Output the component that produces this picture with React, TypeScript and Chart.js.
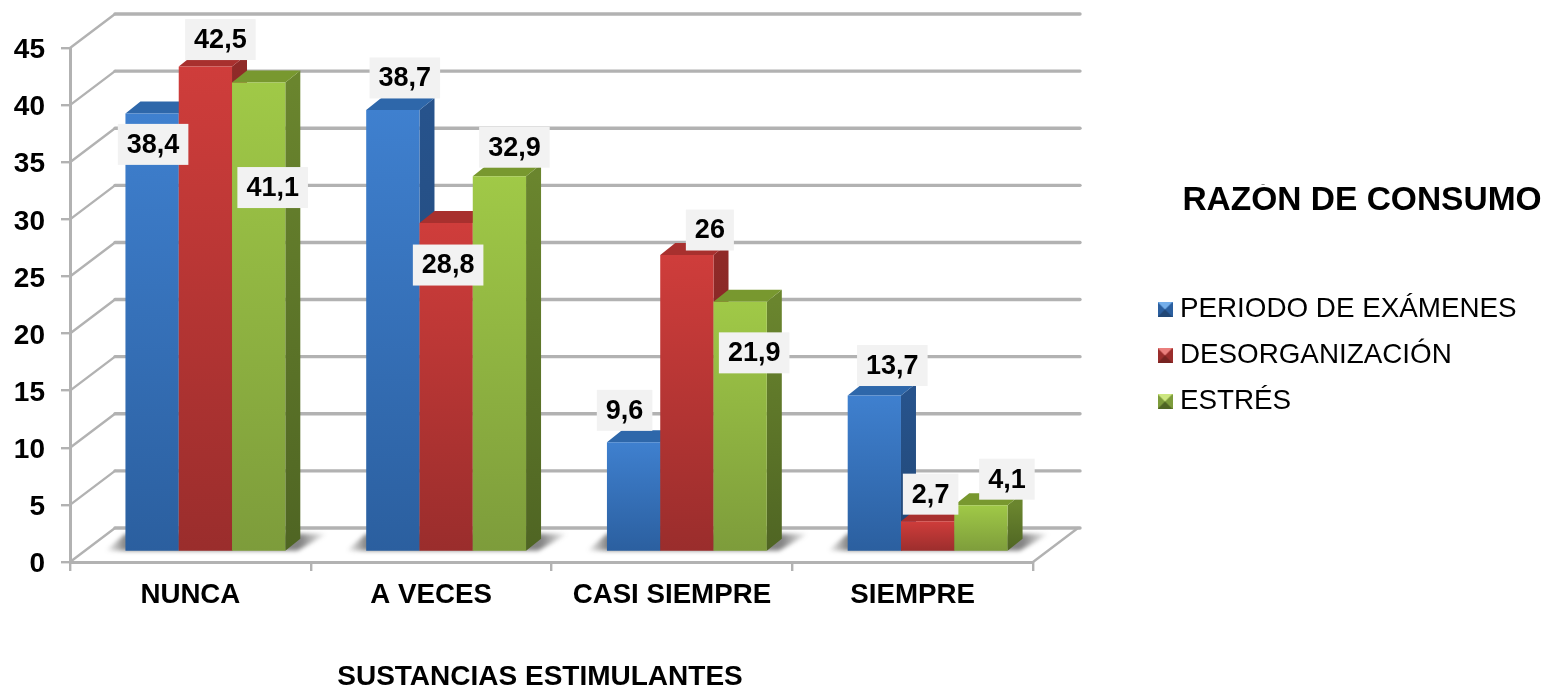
import React, { useEffect, useRef } from "react";
import { Chart, registerables } from "chart.js";

Chart.register(...registerables);

const categories = ["NUNCA", "A VECES", "CASI SIEMPRE", "SIEMPRE"];
const seriesNames = ["PERIODO DE EXÁMENES", "DESORGANIZACIÓN", "ESTRÉS"];
const periodoValues = [38.4, 38.7, 9.6, 13.7];
const desorganizacionValues = [42.5, 28.8, 26, 2.7];
const estresValues = [41.1, 32.9, 21.9, 4.1];
const legendTitle = "RAZÓN DE CONSUMO";
const xAxisTitle = "SUSTANCIAS ESTIMULANTES";

// label nudges relative to the top of each bar, per series then per category
const labelDx = [[1, 12, -9, 18], [15, 2, 23, 3], [14, 15, 14, 26]];
const labelDy = [[30, -33, -33, -31], [-28, 41, -26, -28], [104, -30, 50, -27]];

const FONT = "'Liberation Sans', Arial, sans-serif";
const WALL_DX = 45, WALL_DY = -34;
const BAR_DX = 15, BAR_DY = -10;
const SIDE_DX = 15, SIDE_DY = -12;
const GRID = "#b2b2b2";

const palette = [
  { top: "#3f80cf", bottom: "#2b5f9f", side: "#27538c", sideLow: "#214775", cap: "#2e67aa", hi: "#74aeea" },
  { top: "#cf3d3b", bottom: "#9a2d2c", side: "#8f2a28", sideLow: "#762321", cap: "#a8302e", hi: "#ea7f7d" },
  { top: "#a0c947", bottom: "#7d9c3b", side: "#6a852e", sideLow: "#4f6523", cap: "#78982f", hi: "#cce680" },
];

const fmt = (v: number) => String(v).replace(".", ",");

function marker(c: (typeof palette)[number]) {
  const cv = document.createElement("canvas");
  cv.width = 15; cv.height = 15;
  const g = cv.getContext("2d")!;
  g.fillStyle = c.bottom; g.fillRect(0, 0, 15, 15);
  g.fillStyle = c.hi;
  g.beginPath(); g.moveTo(0, 0); g.lineTo(15, 0); g.lineTo(7.5, 7.5); g.closePath(); g.fill();
  g.fillStyle = c.sideLow;
  g.beginPath(); g.moveTo(0, 15); g.lineTo(15, 15); g.lineTo(7.5, 7.5); g.closePath(); g.fill();
  return cv;
}

const depthPlugin = {
  id: "depth3d",
  beforeLayout(chart: any) {
    const l = chart.legend;
    if (l && !l.__wrapped) {
      const fit = l.fit;
      l.fit = function () { fit.call(this); this.width = 516; };
      l.__wrapped = true;
    }
  },
  afterLayout(chart: any) {
    const l = chart.legend;
    l.left = 1145.8; l.width = 432.4; l.right = l.left + l.width;
    l.top = 184; l.bottom = 460; l.height = l.bottom - l.top;
    const t = chart.titleBlock;
    t.left = 300; t.right = 780; t.width = 480;
    t.top = 660; t.bottom = t.top + t.height;
  },
  beforeDatasetsDraw(chart: any) {
    const { ctx, scales, chartArea } = chart;
    const y = scales.y;
    const y0 = y.getPixelForValue(0);
    const { left, right } = chartArea;

    // back wall and side wall
    ctx.save();
    ctx.filter = "blur(0.5px)";
    ctx.strokeStyle = GRID; ctx.lineCap = "round";
    y.ticks.forEach((t: any) => {
      const py = y.getPixelForValue(t.value);
      ctx.lineWidth = 2.4;
      ctx.beginPath(); ctx.moveTo(left, py); ctx.lineTo(left + WALL_DX, py + WALL_DY); ctx.stroke();
      ctx.lineWidth = 3.4;
      ctx.beginPath(); ctx.moveTo(left + WALL_DX, py + WALL_DY); ctx.lineTo(right + WALL_DX + 2, py + WALL_DY); ctx.stroke();
    });
    ctx.lineWidth = 2.4;
    ctx.beginPath(); ctx.moveTo(right, y0); ctx.lineTo(right + WALL_DX, y0 + WALL_DY); ctx.stroke();
    ctx.restore();

    const metas = [0, 1, 2].map((i) => chart.getDatasetMeta(i));

    // floor shadows
    ctx.save();
    ctx.translate(BAR_DX, BAR_DY);
    ctx.filter = "blur(2px)";
    categories.forEach((_, i) => {
      const a = metas[0].data[i], b = metas[2].data[i];
      const L = a.x - a.width / 2, R = b.x + b.width / 2, B = a.base;
      const from = L - 20, to = R + 42, span = to - from;
      const g = ctx.createLinearGradient(from, 0, to, 0);
      g.addColorStop(0, "rgba(50,50,50,0)");
      g.addColorStop(20 / span, "rgba(50,50,50,0.6)");
      g.addColorStop((R + 15 - from) / span, "rgba(50,50,50,0.6)");
      g.addColorStop(1, "rgba(50,50,50,0)");
      ctx.fillStyle = g;
      ctx.beginPath();
      ctx.moveTo(from, B); ctx.lineTo(L, B - 17); ctx.lineTo(to, B - 17); ctx.lineTo(R + 12, B);
      ctx.closePath(); ctx.fill();
    });
    ctx.restore();

    // bars, left to right, so a nearer front covers the previous side
    ctx.save();
    ctx.translate(BAR_DX, BAR_DY);
    ctx.filter = "blur(0.6px)";
    categories.forEach((_, i) => {
      metas.forEach((meta, s) => {
        const el = meta.data[i];
        const c = palette[s];
        const L = el.x - el.width / 2, R = el.x + el.width / 2, T = el.y, B = el.base;
        const side = ctx.createLinearGradient(0, T, 0, B);
        side.addColorStop(0, c.side); side.addColorStop(1, c.sideLow);
        ctx.fillStyle = side;
        ctx.beginPath();
        ctx.moveTo(R, T); ctx.lineTo(R + SIDE_DX, T + SIDE_DY); ctx.lineTo(R + SIDE_DX, B + SIDE_DY); ctx.lineTo(R, B);
        ctx.closePath(); ctx.fill();
        ctx.fillStyle = c.cap;
        ctx.beginPath();
        ctx.moveTo(L, T); ctx.lineTo(L + SIDE_DX, T + SIDE_DY); ctx.lineTo(R + SIDE_DX, T + SIDE_DY); ctx.lineTo(R, T);
        ctx.closePath(); ctx.fill();
        el.draw(ctx, chartArea);
      });
    });
    ctx.restore();

    // value labels
    ctx.save();
    ctx.font = `bold 27px ${FONT}`;
    ctx.textAlign = "center"; ctx.textBaseline = "middle";
    metas.forEach((meta, s) => {
      meta.data.forEach((el: any, i: number) => {
        const text = fmt(chart.data.datasets[s].data[i]);
        const cx = el.x + BAR_DX + labelDx[s][i];
        const cy = el.y + BAR_DY + labelDy[s][i] + 1;
        const w = ctx.measureText(text).width + 18;
        ctx.fillStyle = "#f2f2f2";
        ctx.fillRect(cx - w / 2, cy - 20.5, w, 41);
        ctx.fillStyle = "#000";
        ctx.fillText(text, cx, cy + 1);
      });
    });
    ctx.restore();
    return false;
  },
};

export default function App() {
  const ref = useRef<HTMLCanvasElement>(null);
  useEffect(() => {
    const barFill = (s: number) => (c: any) => {
      const chart = c.chart;
      const y = chart.scales?.y;
      if (!y || c.raw == null) return palette[s].top;
      const g = chart.ctx.createLinearGradient(0, y.getPixelForValue(c.raw), 0, y.getPixelForValue(0));
      g.addColorStop(0, palette[s].top);
      g.addColorStop(1, palette[s].bottom);
      return g;
    };
    const values = [periodoValues, desorganizacionValues, estresValues];
    const markers = palette.map(marker);
    const chart = new Chart(ref.current!, {
      type: "bar",
      data: {
        labels: categories,
        datasets: seriesNames.map((label, s) => ({
          label,
          data: values[s],
          backgroundColor: barFill(s),
          borderWidth: 0,
          barPercentage: 1,
          categoryPercentage: 0.664,
        })),
      },
      plugins: [depthPlugin],
      options: {
        animation: false,
        responsive: false,
        devicePixelRatio: 1,
        layout: { padding: { top: 48, left: 0, right: 0, bottom: 0 } },
        plugins: {
          tooltip: { enabled: false },
          title: {
            display: true,
            text: xAxisTitle,
            position: "bottom",
            color: "#000",
            padding: 0,
            font: { family: FONT, size: 28, weight: "bold" },
          },
          legend: {
            position: "right",
            align: "start",
            title: {
              display: true,
              text: legendTitle,
              color: "#000",
              position: "center",
              padding: { top: 0, bottom: 53.2 },
              font: { family: FONT, size: 33.5, weight: "bold" },
            },
            labels: {
              color: "#000",
              font: { family: FONT, size: 27.8 },
              padding: 18.2,
              boxWidth: 2,
              boxHeight: 15,
              usePointStyle: true,
              generateLabels: (ch: any) =>
                ch.data.datasets.map((d: any, i: number) => ({
                  text: d.label,
                  pointStyle: markers[i],
                  fontColor: "#000",
                  datasetIndex: i,
                  hidden: false,
                  lineWidth: 0,
                })),
            },
          },
        },
        scales: {
          x: {
            afterFit: (s: any) => { s.height = 688 - 562 - 33.6; },
            grid: { drawOnChartArea: false, color: GRID, lineWidth: 2.4, tickLength: 9 },
            border: { color: GRID, width: 3 },
            ticks: {
              color: "#000", padding: 8, maxRotation: 0, autoSkip: false,
              font: { family: FONT, size: 27.7, weight: "bold" },
            },
          },
          y: {
            min: 0,
            max: 45,
            afterFit: (s: any) => { s.width = 70; },
            grid: { drawOnChartArea: false, color: GRID, lineWidth: 2.4, tickLength: 9 },
            border: { color: GRID, width: 3 },
            ticks: {
              stepSize: 5, color: "#000", padding: 16, labelOffset: 2.5,
              font: { family: FONT, size: 28, weight: "bold" },
            },
          },
        },
      },
    } as any);
    return () => chart.destroy();
  }, []);
  return (
    <div style={{ position: "absolute", left: 0, top: 0, width: 1549, height: 688, background: "#fff" }}>
      <canvas ref={ref} width={1549} height={688} style={{ display: "block" }} />
    </div>
  );
}
